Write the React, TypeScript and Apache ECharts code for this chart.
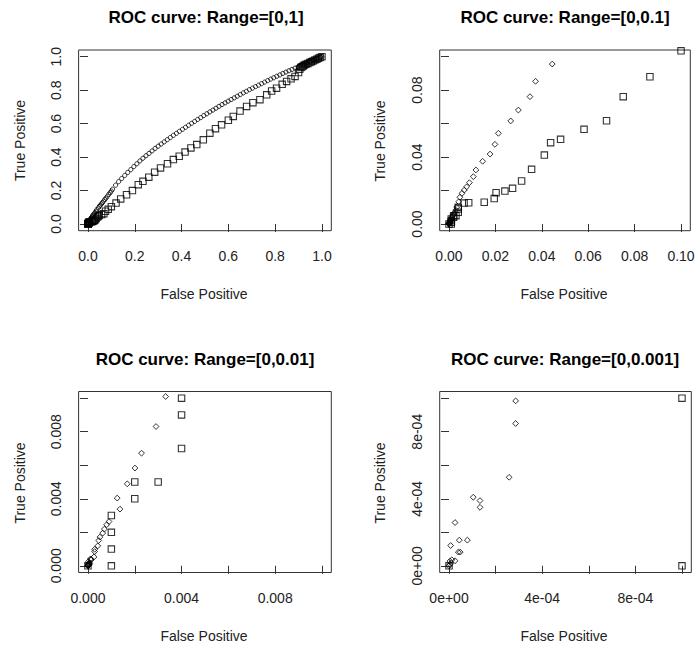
import React, { useEffect, useRef } from "react";
import * as echarts from "echarts";

// ---------- data ----------
const panelTitles = [
  "ROC curve: Range=[0,1]",
  "ROC curve: Range=[0,0.1]",
  "ROC curve: Range=[0,0.01]",
  "ROC curve: Range=[0,0.001]",
];
const panelRanges = [1, 0.1, 0.01, 0.001];
const xAxisTitle = "False Positive";
const yAxisTitle = "True Positive";

const tickValues = [
  [0, 0.2, 0.4, 0.6, 0.8, 1],
  [0, 0.02, 0.04, 0.06, 0.08, 0.1],
  [0, 0.002, 0.004, 0.006, 0.008, 0.01],
  [0, 0.0002, 0.0004, 0.0006, 0.0008, 0.001],
];
const xLabelValues = [
  [0, 0.2, 0.4, 0.6, 0.8, 1],
  [0, 0.02, 0.04, 0.06, 0.08, 0.1],
  [0, 0.004, 0.008],
  [0, 0.0004, 0.0008],
];
const xLabelTexts = [
  ["0.0", "0.2", "0.4", "0.6", "0.8", "1.0"],
  ["0.00", "0.02", "0.04", "0.06", "0.08", "0.10"],
  ["0.000", "0.004", "0.008"],
  ["0e+00", "4e-04", "8e-04"],
];
const yLabelValues = [
  [0, 0.2, 0.4, 0.6, 0.8, 1],
  [0, 0.04, 0.08],
  [0, 0.004, 0.008],
  [0, 0.0004, 0.0008],
];
const yLabelTexts = [
  ["0.0", "0.2", "0.4", "0.6", "0.8", "1.0"],
  ["0.00", "0.04", "0.08"],
  ["0.000", "0.004", "0.008"],
  ["0e+00", "4e-04", "8e-04"],
];

// classifier A (diamonds / small circles): [false positive, true positive]
const diamondPoints: [number, number][] = [
  [0, 0], [0.000004, 0.000008], [0.000008, 0.000016], [0.000004, 0.000028],
  [0.000012, 0.000036], [0.000026, 0.00003], [0.000007, 0.000121],
  [0.00004, 0.0000815], [0.000048, 0.0000815], [0.0000443, 0.000153],
  [0.0000787, 0.000153], [0.0000258, 0.000258], [0.000104, 0.000409],
  [0.000133, 0.000389], [0.000133, 0.000349], [0.000258, 0.000528],
  [0.000286, 0.000849], [0.000286, 0.000984], [0.00042, 0.00119],
  [0.00046, 0.00151], [0.00051, 0.00171], [0.00063, 0.00195], [0.0007, 0.00219],
  [0.0008, 0.00245], [0.0009, 0.00264], [0.00125, 0.00404], [0.00137, 0.00338],
  [0.00168, 0.00489], [0.00201, 0.00583], [0.00229, 0.00672], [0.00291, 0.00831],
  [0.00332, 0.0101], [0.0042, 0.0133], [0.0047, 0.016], [0.0056, 0.0183],
  [0.0066, 0.0203], [0.0076, 0.0222], [0.0088, 0.0247], [0.0105, 0.0283],
  [0.0116, 0.0323], [0.0145, 0.0375], [0.0177, 0.0418], [0.0198, 0.0476],
  [0.0213, 0.0542], [0.0266, 0.0616], [0.0299, 0.0681], [0.0349, 0.0761],
  [0.0373, 0.0853], [0.0445, 0.0956], [0.049, 0.106], [0.053, 0.113],
  [0.058, 0.12], [0.062, 0.128], [0.067, 0.137], [0.072, 0.146], [0.077, 0.155],
  [0.083, 0.166], [0.089, 0.177], [0.095, 0.188], [0.1, 0.197],
  [0.105, 0.208], [0.118, 0.232], [0.131, 0.253], [0.144, 0.272], [0.157, 0.29],
  [0.17, 0.308], [0.183, 0.325], [0.196, 0.343], [0.209, 0.36], [0.222, 0.377],
  [0.235, 0.393], [0.248, 0.408], [0.261, 0.422], [0.274, 0.437], [0.287, 0.452],
  [0.3, 0.465], [0.313, 0.478], [0.326, 0.491], [0.339, 0.504], [0.352, 0.517],
  [0.365, 0.53], [0.378, 0.542], [0.391, 0.554], [0.404, 0.566], [0.417, 0.578],
  [0.43, 0.59], [0.443, 0.602], [0.456, 0.613], [0.469, 0.625], [0.482, 0.636],
  [0.495, 0.648], [0.508, 0.659], [0.521, 0.67], [0.534, 0.681], [0.547, 0.692],
  [0.56, 0.703], [0.573, 0.714], [0.586, 0.724], [0.599, 0.734], [0.612, 0.744],
  [0.625, 0.754], [0.638, 0.764], [0.651, 0.774], [0.664, 0.784], [0.677, 0.793],
  [0.69, 0.803], [0.703, 0.812], [0.716, 0.821], [0.729, 0.83], [0.742, 0.839],
  [0.755, 0.848], [0.768, 0.857], [0.781, 0.866], [0.794, 0.874], [0.807, 0.883],
  [0.82, 0.891], [0.833, 0.9], [0.846, 0.908], [0.859, 0.916], [0.872, 0.924],
  [0.885, 0.932], [0.898, 0.94], [0.905, 0.945], [0.91, 0.948], [0.916, 0.952],
  [0.922, 0.956], [0.928, 0.96], [0.934, 0.963], [0.94, 0.967], [0.946, 0.97],
  [0.952, 0.974], [0.958, 0.977], [0.964, 0.981], [0.97, 0.984], [0.976, 0.988],
  [0.982, 0.991], [0.988, 0.994], [0.994, 0.997], [1, 1],
];

// classifier B (squares): [false positive, true positive]
const squarePoints: [number, number][] = [
  [0, 0], [0.001, 0], [0.001, 0.001], [0.001, 0.002], [0.001, 0.003],
  [0.002, 0.004], [0.002, 0.005], [0.003, 0.005], [0.004, 0.007], [0.004, 0.009],
  [0.004, 0.01], [0.0065, 0.0125], [0.0085, 0.0127], [0.0152, 0.013],
  [0.0195, 0.0152], [0.0203, 0.0187], [0.0241, 0.0197], [0.0274, 0.0213],
  [0.0313, 0.0257], [0.0356, 0.0327], [0.0411, 0.0412], [0.0438, 0.0486],
  [0.0481, 0.0506], [0.0582, 0.0566], [0.0679, 0.0617], [0.0751, 0.0761],
  [0.0866, 0.088], [0.1, 0.1035], [0.12, 0.125], [0.14, 0.15], [0.165, 0.175],
  [0.19, 0.2], [0.215, 0.235], [0.235, 0.255], [0.26, 0.28], [0.285, 0.31],
  [0.31, 0.335], [0.34, 0.36], [0.365, 0.385], [0.39, 0.405], [0.415, 0.43],
  [0.44, 0.455], [0.465, 0.475], [0.493, 0.503], [0.521, 0.543], [0.545, 0.57],
  [0.571, 0.593], [0.6, 0.62], [0.621, 0.643], [0.65, 0.675], [0.678, 0.703],
  [0.705, 0.725], [0.735, 0.743], [0.764, 0.772], [0.785, 0.795], [0.806, 0.812],
  [0.83, 0.835], [0.849, 0.852], [0.868, 0.868], [0.885, 0.882], [0.9, 0.905],
  [0.905, 0.925], [0.91, 0.935], [0.915, 0.94], [0.92, 0.945], [0.925, 0.95],
  [0.932, 0.955], [0.94, 0.96], [0.948, 0.965], [0.955, 0.97], [0.962, 0.975],
  [0.97, 0.98], [0.978, 0.985], [0.985, 0.99], [0.992, 0.995], [1, 1],
];

// ---------- layout ----------
const FONT = '"Liberation Sans", Arial, Helvetica, sans-serif';
const GRID_LEFT = [78.6, 439.7, 78.6, 439.7];
const GRID_TOP = [50, 50, 391.5, 391.5];
const GRID_W = [252.7, 250.6, 252.7, 251.6];
const GRID_H = [180.7, 180.7, 181, 181];
const TITLE_POS = [[206, 17], [565, 17], [205, 359], [565, 359]];
const XNAME_POS = [[204, 293.5], [564, 293.5], [204, 635.5], [564, 635.5]];
const YNAME_POS = [[20, 140.5], [380, 141], [20, 483], [380, 483]];

function makeFormatter(values: number[], texts: string[]) {
  return (v: number) => {
    const i = values.findIndex((u) => Math.abs(u - v) < 1e-12);
    return i >= 0 ? texts[i] : "";
  };
}

export default function App() {
  const ref = useRef<HTMLDivElement>(null);

  useEffect(() => {
    if (!ref.current) return;
    const chart = echarts.init(ref.current, null, { renderer: "svg" });

    const grids: any[] = [];
    const xAxes: any[] = [];
    const yAxes: any[] = [];
    const series: any[] = [];
    const graphics: any[] = [];

    for (let i = 0; i < 4; i++) {
      const r = panelRanges[i];
      grids.push({
        left: GRID_LEFT[i],
        top: GRID_TOP[i],
        width: GRID_W[i],
        height: GRID_H[i],
        show: true,
        borderColor: "#333",
        borderWidth: 1,
        backgroundColor: "transparent",
        containLabel: false,
        outerBoundsMode: "none",
      });
      const axisCommon = {
        type: "value",
        gridIndex: i,
        min: -0.04 * r,
        max: 1.04 * r,
        splitLine: { show: false },
        axisLine: { show: false },
        axisTick: {
          show: true,
          inside: false,
          length: 8,
          customValues: tickValues[i],
          lineStyle: { color: "#333", width: 1 },
        },
      };
      xAxes.push({
        ...axisCommon,
        position: "bottom",
        axisLabel: {
          show: true,
          margin: 18,
          customValues: xLabelValues[i],
          formatter: makeFormatter(xLabelValues[i], xLabelTexts[i]),
          color: "#222",
          fontSize: 14,
          fontFamily: FONT,
        },
      });
      yAxes.push({
        ...axisCommon,
        position: "left",
        axisLabel: {
          show: true,
          rotate: 90,
          margin: 16,
          customValues: yLabelValues[i],
          formatter: makeFormatter(yLabelValues[i], yLabelTexts[i]),
          color: "#222",
          fontSize: 14,
          fontFamily: FONT,
        },
      });
      series.push({
        type: "scatter",
        xAxisIndex: i,
        yAxisIndex: i,
        data: diamondPoints,
        symbol: i === 0 ? "circle" : "diamond",
        symbolSize: i === 0 ? 4.2 : 5.8,
        itemStyle: { color: "rgba(0,0,0,0)", borderColor: "#000", borderWidth: 1 },
        clip: true,
        silent: true,
        emphasis: { disabled: true },
      });
      series.push({
        type: "scatter",
        xAxisIndex: i,
        yAxisIndex: i,
        data: squarePoints,
        symbol: "rect",
        symbolSize: 6.4,
        itemStyle: { color: "rgba(0,0,0,0)", borderColor: "#000", borderWidth: 1.1 },
        clip: true,
        silent: true,
        emphasis: { disabled: true },
      });

      graphics.push({
        type: "text",
        x: TITLE_POS[i][0],
        y: TITLE_POS[i][1],
        silent: true,
        style: {
          text: panelTitles[i],
          align: "center",
          verticalAlign: "middle",
          fill: "#000",
          font: `bold 17px ${FONT}`,
        },
      });
      graphics.push({
        type: "text",
        x: XNAME_POS[i][0],
        y: XNAME_POS[i][1],
        silent: true,
        style: {
          text: xAxisTitle,
          align: "center",
          verticalAlign: "middle",
          fill: "#222",
          font: `14px ${FONT}`,
        },
      });
      graphics.push({
        type: "text",
        x: YNAME_POS[i][0],
        y: YNAME_POS[i][1],
        rotation: Math.PI / 2,
        silent: true,
        style: {
          text: yAxisTitle,
          align: "center",
          verticalAlign: "middle",
          fill: "#222",
          font: `14px ${FONT}`,
        },
      });
    }

    chart.setOption({
      animation: false,
      backgroundColor: "#fff",
      grid: grids,
      xAxis: xAxes,
      yAxis: yAxes,
      series,
      graphic: graphics,
    });

    return () => chart.dispose();
  }, []);

  return (
    <div
      ref={ref}
      style={{ position: "absolute", left: 0, top: 0, width: 696, height: 648, background: "#fff" }}
    />
  );
}
